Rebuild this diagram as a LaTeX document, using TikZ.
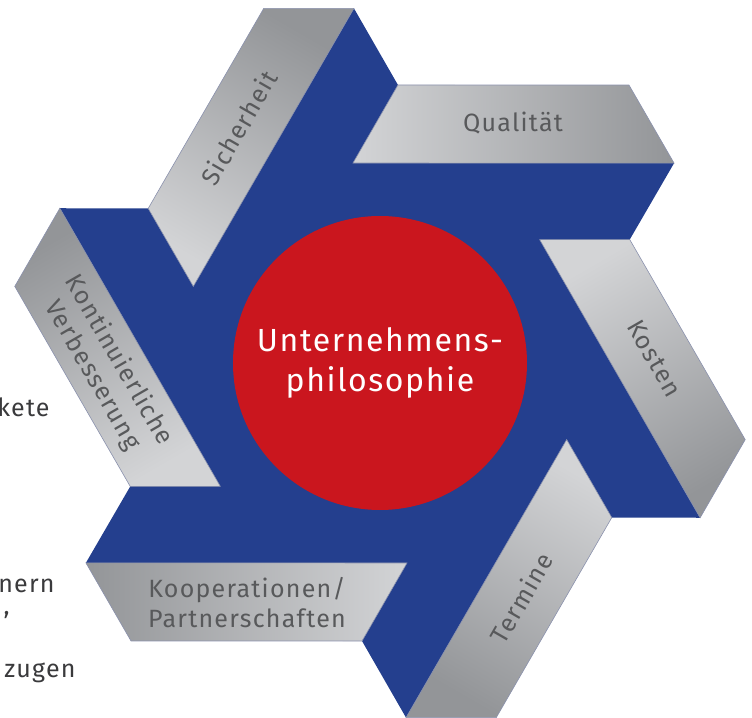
\documentclass[tikz,border=0pt]{standalone}
\usepackage{fontspec}
\setmainfont{Fira Sans}[LetterSpace=5]
\definecolor{hexblue}{HTML}{243F8E}
\definecolor{corered}{HTML}{CA161E}
\definecolor{armlight}{HTML}{D3D4D6}
\definecolor{armdark}{HTML}{939598}
\definecolor{armtext}{HTML}{58595B}
\definecolor{armedge}{HTML}{8A91AD}
\definecolor{sidegrey}{HTML}{3A3A3C}
\tikzset{
    armshape/.style={draw=armedge, line width=0.3pt, top color=armdark, bottom color=armlight},
    armlabel/.style={text=armtext, font=\fontsize{12.5}{15}\selectfont, align=center, inner sep=0pt},
    corelabel/.style={circle, fill=corered, minimum size=147pt, inner sep=0pt, text=white,
        align=center, font=\fontsize{16}{20}\selectfont},
    sidetext/.style={text=sidegrey, font=\fontsize{12.5}{14}\selectfont, anchor=base east, inner sep=0pt}
}
\begin{document}
\begin{tikzpicture}[x=0.5pt,y=0.5pt]
    \useasboundingbox (-380,-355) rectangle (372,363);
    % blue star behind the arms
    \fill[hexblue] (86.3:278.6) \foreach \k in {0,...,5} { -- ({86.3-60*\k}:278.6) -- ({34.2-60*\k}:355.6) } -- cycle;
    % grey arms
    \foreach \k [evaluate={\a=86.3-60*\k;\b=48.15-60*\k;\t=34.2-60*\k;\d=97.69-60*\k;\s=-90-60*\k}] in {0,1,...,5}
    {
        \draw[armshape, shading angle=\s] (\a:278.6) -- (\b:373.2) -- (\t:355.6) -- (\d:201.8) -- cycle;
    }
    \foreach \k/\r/\txt in {0/0/Qualität, 1/-60/Kosten, 2/60/Termine, 3/0/{Kooperationen/\\Partnerschaften},
        4/-60/{Kontinuierliche\\Verbesserung}, 5/60/Sicherheit}
    {
        \node[armlabel, rotate=\r] (arm\k) at ({61-60*\k}:274.4) {\txt};
    }
    \node[corelabel] (core) at (0,0) {Unternehmens-\\philosophie};
    % cut-off text at the left margin
    \node[sidetext] (side1) at (-330,-54) {kete};
    \node[sidetext] (side2) at (-325,-230) {nern};
    \node[sidetext] (side3) at (-370,-252) {,};
    \node[sidetext] (side4) at (-304,-315) {zugen};
\end{tikzpicture}
\end{document}
